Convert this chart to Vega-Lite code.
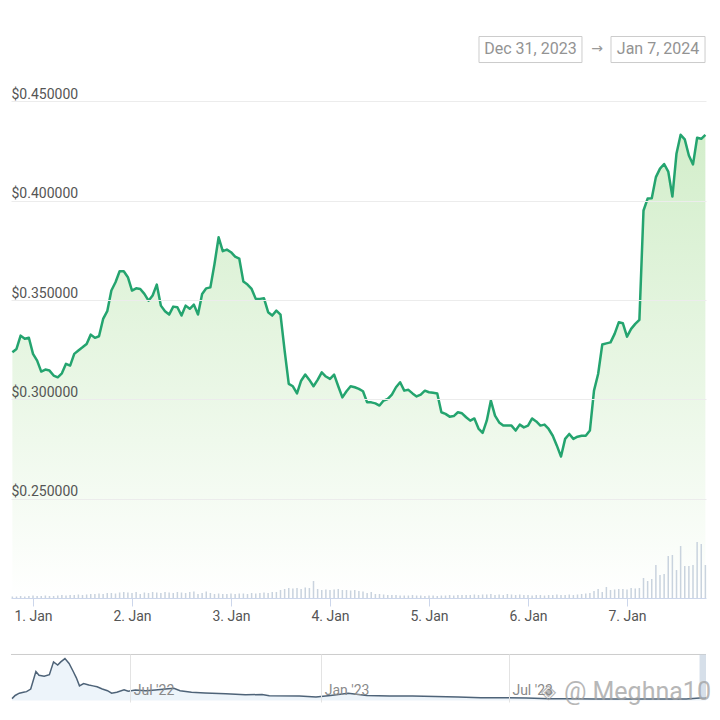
{
  "$schema": "https://vega.github.io/schema/vega-lite/v6.json",
  "background": "white",
  "padding": {"left": 9, "top": 22, "right": 0, "bottom": 0},
  "spacing": 30,
  "config": {"view": {"stroke": null}, "font": "Roboto"},
  "datasets": {
    "price": [
      {"t": "2023-12-31T19:00", "p": 0.3237, "v": 1.5},
      {"t": "2023-12-31T20:00", "p": 0.3254, "v": 1.5},
      {"t": "2023-12-31T21:00", "p": 0.3321, "v": 2},
      {"t": "2023-12-31T22:00", "p": 0.3305, "v": 1.5},
      {"t": "2023-12-31T23:00", "p": 0.3310, "v": 2},
      {"t": "2024-01-01T00:00", "p": 0.3229, "v": 2.5},
      {"t": "2024-01-01T01:00", "p": 0.3195, "v": 2},
      {"t": "2024-01-01T02:00", "p": 0.3140, "v": 2},
      {"t": "2024-01-01T03:00", "p": 0.3150, "v": 2.5},
      {"t": "2024-01-01T04:00", "p": 0.3145, "v": 2},
      {"t": "2024-01-01T05:00", "p": 0.3120, "v": 2},
      {"t": "2024-01-01T06:00", "p": 0.3111, "v": 2.5},
      {"t": "2024-01-01T07:00", "p": 0.3131, "v": 3},
      {"t": "2024-01-01T08:00", "p": 0.3179, "v": 2.5},
      {"t": "2024-01-01T09:00", "p": 0.3170, "v": 3},
      {"t": "2024-01-01T10:00", "p": 0.3229, "v": 3},
      {"t": "2024-01-01T11:00", "p": 0.3246, "v": 3.5},
      {"t": "2024-01-01T12:00", "p": 0.3262, "v": 3},
      {"t": "2024-01-01T13:00", "p": 0.3279, "v": 3.5},
      {"t": "2024-01-01T14:00", "p": 0.3326, "v": 4},
      {"t": "2024-01-01T15:00", "p": 0.3310, "v": 4},
      {"t": "2024-01-01T16:00", "p": 0.3318, "v": 4.5},
      {"t": "2024-01-01T17:00", "p": 0.3405, "v": 4},
      {"t": "2024-01-01T18:00", "p": 0.3444, "v": 5},
      {"t": "2024-01-01T19:00", "p": 0.3548, "v": 5},
      {"t": "2024-01-01T20:00", "p": 0.3590, "v": 4.5},
      {"t": "2024-01-01T21:00", "p": 0.3645, "v": 5.5},
      {"t": "2024-01-01T22:00", "p": 0.3645, "v": 6},
      {"t": "2024-01-01T23:00", "p": 0.3615, "v": 5.5},
      {"t": "2024-01-02T00:00", "p": 0.3548, "v": 5},
      {"t": "2024-01-02T01:00", "p": 0.3559, "v": 6},
      {"t": "2024-01-02T02:00", "p": 0.3556, "v": 4},
      {"t": "2024-01-02T03:00", "p": 0.3531, "v": 5.5},
      {"t": "2024-01-02T04:00", "p": 0.3497, "v": 5},
      {"t": "2024-01-02T05:00", "p": 0.3523, "v": 6},
      {"t": "2024-01-02T06:00", "p": 0.3578, "v": 5.5},
      {"t": "2024-01-02T07:00", "p": 0.3472, "v": 5},
      {"t": "2024-01-02T08:00", "p": 0.3444, "v": 6},
      {"t": "2024-01-02T09:00", "p": 0.3427, "v": 5.5},
      {"t": "2024-01-02T10:00", "p": 0.3467, "v": 5},
      {"t": "2024-01-02T11:00", "p": 0.3464, "v": 6},
      {"t": "2024-01-02T12:00", "p": 0.3422, "v": 5.5},
      {"t": "2024-01-02T13:00", "p": 0.3472, "v": 5},
      {"t": "2024-01-02T14:00", "p": 0.3456, "v": 6},
      {"t": "2024-01-02T15:00", "p": 0.3477, "v": 6.5},
      {"t": "2024-01-02T16:00", "p": 0.3427, "v": 4},
      {"t": "2024-01-02T17:00", "p": 0.3531, "v": 5},
      {"t": "2024-01-02T18:00", "p": 0.3559, "v": 6.5},
      {"t": "2024-01-02T19:00", "p": 0.3564, "v": 5},
      {"t": "2024-01-02T20:00", "p": 0.3682, "v": 4},
      {"t": "2024-01-02T21:00", "p": 0.3816, "v": 4.5},
      {"t": "2024-01-02T22:00", "p": 0.3746, "v": 4},
      {"t": "2024-01-02T23:00", "p": 0.3754, "v": 4},
      {"t": "2024-01-03T00:00", "p": 0.3741, "v": 4.5},
      {"t": "2024-01-03T01:00", "p": 0.3719, "v": 4},
      {"t": "2024-01-03T02:00", "p": 0.3709, "v": 4.5},
      {"t": "2024-01-03T03:00", "p": 0.3593, "v": 4.5},
      {"t": "2024-01-03T04:00", "p": 0.3578, "v": 4},
      {"t": "2024-01-03T05:00", "p": 0.3556, "v": 5},
      {"t": "2024-01-03T06:00", "p": 0.3506, "v": 4.5},
      {"t": "2024-01-03T07:00", "p": 0.3506, "v": 5},
      {"t": "2024-01-03T08:00", "p": 0.3509, "v": 5.5},
      {"t": "2024-01-03T09:00", "p": 0.3439, "v": 5},
      {"t": "2024-01-03T10:00", "p": 0.3422, "v": 6},
      {"t": "2024-01-03T11:00", "p": 0.3447, "v": 6},
      {"t": "2024-01-03T12:00", "p": 0.3427, "v": 8},
      {"t": "2024-01-03T13:00", "p": 0.3246, "v": 9},
      {"t": "2024-01-03T14:00", "p": 0.3078, "v": 10},
      {"t": "2024-01-03T15:00", "p": 0.3066, "v": 9.5},
      {"t": "2024-01-03T16:00", "p": 0.3030, "v": 10},
      {"t": "2024-01-03T17:00", "p": 0.3094, "v": 9},
      {"t": "2024-01-03T18:00", "p": 0.3125, "v": 10.5},
      {"t": "2024-01-03T19:00", "p": 0.3098, "v": 10},
      {"t": "2024-01-03T20:00", "p": 0.3066, "v": 17},
      {"t": "2024-01-03T21:00", "p": 0.3098, "v": 9},
      {"t": "2024-01-03T22:00", "p": 0.3136, "v": 8},
      {"t": "2024-01-03T23:00", "p": 0.3115, "v": 8.5},
      {"t": "2024-01-04T00:00", "p": 0.3103, "v": 8},
      {"t": "2024-01-04T01:00", "p": 0.3125, "v": 8.5},
      {"t": "2024-01-04T02:00", "p": 0.3066, "v": 9},
      {"t": "2024-01-04T03:00", "p": 0.3010, "v": 8},
      {"t": "2024-01-04T04:00", "p": 0.3041, "v": 8},
      {"t": "2024-01-04T05:00", "p": 0.3066, "v": 7.5},
      {"t": "2024-01-04T06:00", "p": 0.3061, "v": 8},
      {"t": "2024-01-04T07:00", "p": 0.3053, "v": 7},
      {"t": "2024-01-04T08:00", "p": 0.3041, "v": 6.5},
      {"t": "2024-01-04T09:00", "p": 0.2985, "v": 5},
      {"t": "2024-01-04T10:00", "p": 0.2985, "v": 6},
      {"t": "2024-01-04T11:00", "p": 0.2980, "v": 4},
      {"t": "2024-01-04T12:00", "p": 0.2969, "v": 4},
      {"t": "2024-01-04T13:00", "p": 0.2994, "v": 3.5},
      {"t": "2024-01-04T14:00", "p": 0.3002, "v": 3},
      {"t": "2024-01-04T15:00", "p": 0.3024, "v": 3},
      {"t": "2024-01-04T16:00", "p": 0.3061, "v": 3},
      {"t": "2024-01-04T17:00", "p": 0.3086, "v": 2.5},
      {"t": "2024-01-04T18:00", "p": 0.3044, "v": 2.5},
      {"t": "2024-01-04T19:00", "p": 0.3048, "v": 2.5},
      {"t": "2024-01-04T20:00", "p": 0.3030, "v": 3},
      {"t": "2024-01-04T21:00", "p": 0.3015, "v": 2.5},
      {"t": "2024-01-04T22:00", "p": 0.3024, "v": 2.5},
      {"t": "2024-01-04T23:00", "p": 0.3044, "v": 2},
      {"t": "2024-01-05T00:00", "p": 0.3036, "v": 2.5},
      {"t": "2024-01-05T01:00", "p": 0.3033, "v": 2.5},
      {"t": "2024-01-05T02:00", "p": 0.3030, "v": 2},
      {"t": "2024-01-05T03:00", "p": 0.2935, "v": 2.5},
      {"t": "2024-01-05T04:00", "p": 0.2927, "v": 2.5},
      {"t": "2024-01-05T05:00", "p": 0.2913, "v": 3},
      {"t": "2024-01-05T06:00", "p": 0.2916, "v": 2.5},
      {"t": "2024-01-05T07:00", "p": 0.2935, "v": 3},
      {"t": "2024-01-05T08:00", "p": 0.2930, "v": 3},
      {"t": "2024-01-05T09:00", "p": 0.2910, "v": 3},
      {"t": "2024-01-05T10:00", "p": 0.2893, "v": 3},
      {"t": "2024-01-05T11:00", "p": 0.2904, "v": 3.5},
      {"t": "2024-01-05T12:00", "p": 0.2853, "v": 3},
      {"t": "2024-01-05T13:00", "p": 0.2831, "v": 3.5},
      {"t": "2024-01-05T14:00", "p": 0.2893, "v": 3.5},
      {"t": "2024-01-05T15:00", "p": 0.2994, "v": 4},
      {"t": "2024-01-05T16:00", "p": 0.2918, "v": 3},
      {"t": "2024-01-05T17:00", "p": 0.2884, "v": 3.5},
      {"t": "2024-01-05T18:00", "p": 0.2868, "v": 3},
      {"t": "2024-01-05T19:00", "p": 0.2868, "v": 4},
      {"t": "2024-01-05T20:00", "p": 0.2868, "v": 3.5},
      {"t": "2024-01-05T21:00", "p": 0.2843, "v": 3},
      {"t": "2024-01-05T22:00", "p": 0.2873, "v": 3.5},
      {"t": "2024-01-05T23:00", "p": 0.2859, "v": 3},
      {"t": "2024-01-06T00:00", "p": 0.2868, "v": 3},
      {"t": "2024-01-06T01:00", "p": 0.2904, "v": 2.5},
      {"t": "2024-01-06T02:00", "p": 0.2889, "v": 3},
      {"t": "2024-01-06T03:00", "p": 0.2868, "v": 3},
      {"t": "2024-01-06T04:00", "p": 0.2873, "v": 2.5},
      {"t": "2024-01-06T05:00", "p": 0.2851, "v": 3},
      {"t": "2024-01-06T06:00", "p": 0.2817, "v": 3},
      {"t": "2024-01-06T07:00", "p": 0.2767, "v": 3.5},
      {"t": "2024-01-06T08:00", "p": 0.2712, "v": 3},
      {"t": "2024-01-06T09:00", "p": 0.2801, "v": 3},
      {"t": "2024-01-06T10:00", "p": 0.2826, "v": 3.5},
      {"t": "2024-01-06T11:00", "p": 0.2801, "v": 3},
      {"t": "2024-01-06T12:00", "p": 0.2812, "v": 3.5},
      {"t": "2024-01-06T13:00", "p": 0.2817, "v": 4},
      {"t": "2024-01-06T14:00", "p": 0.2817, "v": 4.5},
      {"t": "2024-01-06T15:00", "p": 0.2843, "v": 5},
      {"t": "2024-01-06T16:00", "p": 0.3044, "v": 7},
      {"t": "2024-01-06T17:00", "p": 0.3128, "v": 9},
      {"t": "2024-01-06T18:00", "p": 0.3276, "v": 6},
      {"t": "2024-01-06T19:00", "p": 0.3282, "v": 11},
      {"t": "2024-01-06T20:00", "p": 0.3287, "v": 8},
      {"t": "2024-01-06T21:00", "p": 0.3330, "v": 8.5},
      {"t": "2024-01-06T22:00", "p": 0.3388, "v": 9},
      {"t": "2024-01-06T23:00", "p": 0.3383, "v": 9},
      {"t": "2024-01-07T00:00", "p": 0.3316, "v": 8.5},
      {"t": "2024-01-07T01:00", "p": 0.3355, "v": 10},
      {"t": "2024-01-07T02:00", "p": 0.3380, "v": 9.5},
      {"t": "2024-01-07T03:00", "p": 0.3400, "v": 10},
      {"t": "2024-01-07T04:00", "p": 0.3951, "v": 20},
      {"t": "2024-01-07T05:00", "p": 0.4011, "v": 17},
      {"t": "2024-01-07T06:00", "p": 0.4013, "v": 19},
      {"t": "2024-01-07T07:00", "p": 0.4119, "v": 33},
      {"t": "2024-01-07T08:00", "p": 0.4162, "v": 23},
      {"t": "2024-01-07T09:00", "p": 0.4185, "v": 24},
      {"t": "2024-01-07T10:00", "p": 0.4147, "v": 42},
      {"t": "2024-01-07T11:00", "p": 0.4021, "v": 43},
      {"t": "2024-01-07T12:00", "p": 0.4238, "v": 28},
      {"t": "2024-01-07T13:00", "p": 0.4332, "v": 52},
      {"t": "2024-01-07T14:00", "p": 0.4309, "v": 32},
      {"t": "2024-01-07T15:00", "p": 0.4228, "v": 32},
      {"t": "2024-01-07T16:00", "p": 0.4183, "v": 33},
      {"t": "2024-01-07T17:00", "p": 0.4317, "v": 56},
      {"t": "2024-01-07T18:00", "p": 0.4312, "v": 54},
      {"t": "2024-01-07T19:00", "p": 0.4332, "v": 33}
    ],
    "nav": [
      {"d": "2022-03-09", "v": 0.35},
      {"d": "2022-03-12", "v": 0.68},
      {"d": "2022-03-16", "v": 0.92},
      {"d": "2022-03-20", "v": 1.02},
      {"d": "2022-03-23", "v": 1.08},
      {"d": "2022-03-27", "v": 1.35},
      {"d": "2022-04-01", "v": 3.18},
      {"d": "2022-04-04", "v": 2.78},
      {"d": "2022-04-09", "v": 2.68},
      {"d": "2022-04-14", "v": 2.85},
      {"d": "2022-04-18", "v": 4.18},
      {"d": "2022-04-22", "v": 3.85},
      {"d": "2022-04-25", "v": 4.18},
      {"d": "2022-04-29", "v": 4.52},
      {"d": "2022-05-03", "v": 4.02},
      {"d": "2022-05-07", "v": 3.18},
      {"d": "2022-05-10", "v": 2.52},
      {"d": "2022-05-13", "v": 1.68},
      {"d": "2022-05-17", "v": 1.92},
      {"d": "2022-05-22", "v": 1.78},
      {"d": "2022-05-26", "v": 1.68},
      {"d": "2022-05-30", "v": 1.58},
      {"d": "2022-06-04", "v": 1.35},
      {"d": "2022-06-09", "v": 1.18},
      {"d": "2022-06-13", "v": 0.92},
      {"d": "2022-06-18", "v": 1.02},
      {"d": "2022-06-25", "v": 1.28},
      {"d": "2022-06-29", "v": 1.12},
      {"d": "2022-07-06", "v": 1.25},
      {"d": "2022-07-16", "v": 1.18},
      {"d": "2022-07-25", "v": 1.25},
      {"d": "2022-08-04", "v": 1.35},
      {"d": "2022-08-12", "v": 1.42},
      {"d": "2022-08-18", "v": 1.18},
      {"d": "2022-08-29", "v": 1.02},
      {"d": "2022-09-11", "v": 0.95},
      {"d": "2022-10-01", "v": 0.85},
      {"d": "2022-10-20", "v": 0.75},
      {"d": "2022-11-05", "v": 0.78},
      {"d": "2022-11-12", "v": 0.65},
      {"d": "2022-12-11", "v": 0.62},
      {"d": "2022-12-27", "v": 0.52},
      {"d": "2023-01-10", "v": 0.68},
      {"d": "2023-01-27", "v": 0.92},
      {"d": "2023-02-14", "v": 0.68},
      {"d": "2023-03-08", "v": 0.62},
      {"d": "2023-03-30", "v": 0.62},
      {"d": "2023-04-21", "v": 0.58},
      {"d": "2023-05-13", "v": 0.52},
      {"d": "2023-06-04", "v": 0.45},
      {"d": "2023-06-26", "v": 0.45},
      {"d": "2023-07-18", "v": 0.42},
      {"d": "2023-08-09", "v": 0.35},
      {"d": "2023-08-31", "v": 0.35},
      {"d": "2023-09-22", "v": 0.32},
      {"d": "2023-11-05", "v": 0.32},
      {"d": "2023-12-19", "v": 0.32},
      {"d": "2024-01-01", "v": 0.42},
      {"d": "2024-01-07", "v": 0.43}
    ]
  },
  "vconcat": [
    {
      "width": 695,
      "height": 576,
      "data": {"name": "price"},
      "resolve": {"scale": {"y": "independent"}},
      "layer": [
        {
          "mark": {
            "type": "area",
            "color": {
              "gradient": "linear", "x1": 0, "y1": 0, "x2": 0, "y2": 1,
              "stops": [
                {"offset": 0, "color": "#d3eecb"},
                {"offset": 0.55, "color": "#eaf7e6"},
                {"offset": 1, "color": "#ffffff"}
              ]
            }
          },
          "encoding": {
            "x": {
              "field": "t", "type": "temporal",
              "scale": {"domain": [{"year": 2023, "month": 12, "date": 31, "hours": 18, "minutes": 40}, {"year": 2024, "month": 1, "date": 7, "hours": 19, "minutes": 9}]},
              "axis": {
                "title": null,
                "values": [
                  {"year": 2024, "month": 1, "date": 1},
                  {"year": 2024, "month": 1, "date": 2},
                  {"year": 2024, "month": 1, "date": 3},
                  {"year": 2024, "month": 1, "date": 4},
                  {"year": 2024, "month": 1, "date": 5},
                  {"year": 2024, "month": 1, "date": 6},
                  {"year": 2024, "month": 1, "date": 7}
                ],
                "format": "%-d. %b",
                "grid": false,
                "domainColor": "#ccd6eb",
                "tickColor": "#ccd6eb",
                "tickSize": 8,
                "labelPadding": 3,
                "labelColor": "#555555",
                "labelFontSize": 14,
                "labelFont": "Roboto",
                "labelFlush": false
              }
            },
            "y": {
              "field": "p", "type": "quantitative",
              "scale": {"domain": [0.2, 0.49]},
              "axis": {
                "title": null,
                "zindex": 1,
                "values": [0.25, 0.3, 0.35, 0.4, 0.45],
                "format": "$.6f",
                "grid": true,
                "gridColor": "#ececec",
                "domain": false,
                "ticks": false,
                "tickSize": 0,
                "labelAlign": "left",
                "labelBaseline": "alphabetic",
                "labelPadding": 0,
                "labelOffset": -3,
                "labelColor": "#555555",
                "labelFontSize": 14,
                "labelFont": "Roboto"
              }
            },
            "y2": {"datum": 0.2}
          }
        },
        {
          "mark": {"type": "rule", "color": "#c9d3de", "strokeWidth": 1.5},
          "encoding": {
            "x": {"field": "t", "type": "temporal", "scale": {"domain": [{"year": 2023, "month": 12, "date": 31, "hours": 18, "minutes": 40}, {"year": 2024, "month": 1, "date": 7, "hours": 19, "minutes": 9}]}},
            "y": {"field": "v", "type": "quantitative", "scale": {"domain": [0, 576]}, "axis": null},
            "y2": {"datum": 0}
          }
        },
        {
          "mark": {"type": "line", "color": "#24a46f", "strokeWidth": 2.5, "strokeJoin": "round"},
          "encoding": {
            "x": {"field": "t", "type": "temporal", "scale": {"domain": [{"year": 2023, "month": 12, "date": 31, "hours": 18, "minutes": 40}, {"year": 2024, "month": 1, "date": 7, "hours": 19, "minutes": 9}]}},
            "y": {"field": "p", "type": "quantitative", "scale": {"domain": [0.2, 0.49]}, "axis": null}
          }
        },
        {
          "data": {"values": [{}]},
          "mark": {"type": "rect", "fill": "white", "stroke": "#cccccc", "strokeWidth": 1},
          "encoding": {
            "x": {"datum": {"year": 2024, "month": 1, "date": 5, "hours": 12, "minutes": 7}, "type": "temporal", "scale": {"domain": [{"year": 2023, "month": 12, "date": 31, "hours": 18, "minutes": 40}, {"year": 2024, "month": 1, "date": 7, "hours": 19, "minutes": 9}]}},
            "x2": {"datum": {"year": 2024, "month": 1, "date": 6, "hours": 13, "minutes": 5}},
            "y": {"datum": 0.4827, "type": "quantitative", "scale": {"domain": [0.2, 0.49]}, "axis": null},
            "y2": {"datum": 0.4696}
          }
        },
        {
          "data": {"values": [{}]},
          "mark": {"type": "rect", "fill": "white", "stroke": "#cccccc", "strokeWidth": 1},
          "encoding": {
            "x": {"datum": {"year": 2024, "month": 1, "date": 6, "hours": 20, "minutes": 7}, "type": "temporal", "scale": {"domain": [{"year": 2023, "month": 12, "date": 31, "hours": 18, "minutes": 40}, {"year": 2024, "month": 1, "date": 7, "hours": 19, "minutes": 9}]}},
            "x2": {"datum": {"year": 2024, "month": 1, "date": 7, "hours": 18, "minutes": 55}},
            "y": {"datum": 0.4827, "type": "quantitative", "scale": {"domain": [0.2, 0.49]}, "axis": null},
            "y2": {"datum": 0.4696}
          }
        },
        {
          "data": {"values": [{}]},
          "mark": {"type": "text", "text": "Dec 31, 2023", "font": "Roboto", "fontSize": 16, "color": "#939393", "align": "center", "baseline": "middle"},
          "encoding": {
            "x": {"datum": {"year": 2024, "month": 1, "date": 6, "hours": 0, "minutes": 36}, "type": "temporal", "scale": {"domain": [{"year": 2023, "month": 12, "date": 31, "hours": 18, "minutes": 40}, {"year": 2024, "month": 1, "date": 7, "hours": 19, "minutes": 9}]}},
            "y": {"datum": 0.4762, "type": "quantitative", "scale": {"domain": [0.2, 0.49]}, "axis": null}
          }
        },
        {
          "data": {"values": [{}]},
          "mark": {"type": "text", "text": "→", "font": "DejaVu Sans", "fontSize": 14, "color": "#999999", "align": "center", "baseline": "middle"},
          "encoding": {
            "x": {"datum": {"year": 2024, "month": 1, "date": 6, "hours": 16, "minutes": 44}, "type": "temporal", "scale": {"domain": [{"year": 2023, "month": 12, "date": 31, "hours": 18, "minutes": 40}, {"year": 2024, "month": 1, "date": 7, "hours": 19, "minutes": 9}]}},
            "y": {"datum": 0.4762, "type": "quantitative", "scale": {"domain": [0.2, 0.49]}, "axis": null}
          }
        },
        {
          "data": {"values": [{}]},
          "mark": {"type": "text", "text": "Jan 7, 2024", "font": "Roboto", "fontSize": 16, "color": "#939393", "align": "center", "baseline": "middle"},
          "encoding": {
            "x": {"datum": {"year": 2024, "month": 1, "date": 7, "hours": 7, "minutes": 31}, "type": "temporal", "scale": {"domain": [{"year": 2023, "month": 12, "date": 31, "hours": 18, "minutes": 40}, {"year": 2024, "month": 1, "date": 7, "hours": 19, "minutes": 9}]}},
            "y": {"datum": 0.4762, "type": "quantitative", "scale": {"domain": [0.2, 0.49]}, "axis": null}
          }
        }
      ]
    },
    {
      "width": 695,
      "height": 48,
      "data": {"name": "nav"},
      "layer": [
        {
          "mark": {"type": "area", "color": "#edf4fa"},
          "encoding": {
            "x": {
              "field": "d", "type": "temporal",
              "scale": {"domain": [{"year": 2022, "month": 3, "date": 8}, {"year": 2024, "month": 1, "date": 7}]},
              "axis": {
                "title": null,
                "zindex": 1,
                "values": [
                  {"year": 2022, "month": 7, "date": 1},
                  {"year": 2023, "month": 1, "date": 1},
                  {"year": 2023, "month": 7, "date": 1}
                ],
                "format": "%b '%y",
                "grid": true,
                "gridColor": "#e3e3e3",
                "domain": false,
                "ticks": false,
                "tickSize": 0,
                "labelAlign": "left",
                "labelBaseline": "middle",
                "labelPadding": -12,
                "labelOffset": 3,
                "labelColor": "#8a8a8a",
                "labelFontSize": 14,
                "labelFont": "Roboto",
                "labelFlush": false
              }
            },
            "y": {"field": "v", "type": "quantitative", "scale": {"domain": [0.15, 4.95]}, "axis": null},
            "y2": {"datum": 0.15}
          }
        },
        {
          "mark": {"type": "line", "color": "#4e6378", "strokeWidth": 1.5},
          "encoding": {
            "x": {"field": "d", "type": "temporal"},
            "y": {"field": "v", "type": "quantitative"}
          }
        },
        {
          "data": {"values": [{}]},
          "mark": {"type": "rule", "color": "#cccccc", "strokeWidth": 1},
          "encoding": {
            "y": {"datum": 4.95, "type": "quantitative"}
          }
        },
        {
          "data": {"values": [{}]},
          "mark": {"type": "rect", "color": "#c5d1df", "opacity": 0.7},
          "encoding": {
            "x": {"datum": {"year": 2023, "month": 12, "date": 31, "hours": 19}, "type": "temporal"},
            "x2": {"datum": {"year": 2024, "month": 1, "date": 7}},
            "y": {"datum": 4.95, "type": "quantitative"},
            "y2": {"datum": 0.35}
          }
        },
        {
          "data": {"values": [{}]},
          "mark": {"type": "text", "text": "◈", "font": "DejaVu Sans", "fontSize": 20, "color": "#a0a0a0", "opacity": 0.75, "align": "center", "baseline": "middle"},
          "encoding": {
            "x": {"datum": {"year": 2023, "month": 8, "date": 8}, "type": "temporal"},
            "y": {"datum": 1.05, "type": "quantitative"}
          }
        },
        {
          "data": {"values": [{}]},
          "mark": {"type": "text", "text": "@ Meghna10", "font": "Roboto", "fontSize": 25, "color": "#a0a0a0", "opacity": 0.75, "align": "left", "baseline": "middle"},
          "encoding": {
            "x": {"datum": {"year": 2023, "month": 8, "date": 23}, "type": "temporal"},
            "y": {"datum": 1.05, "type": "quantitative"}
          }
        }
      ]
    }
  ]
}
